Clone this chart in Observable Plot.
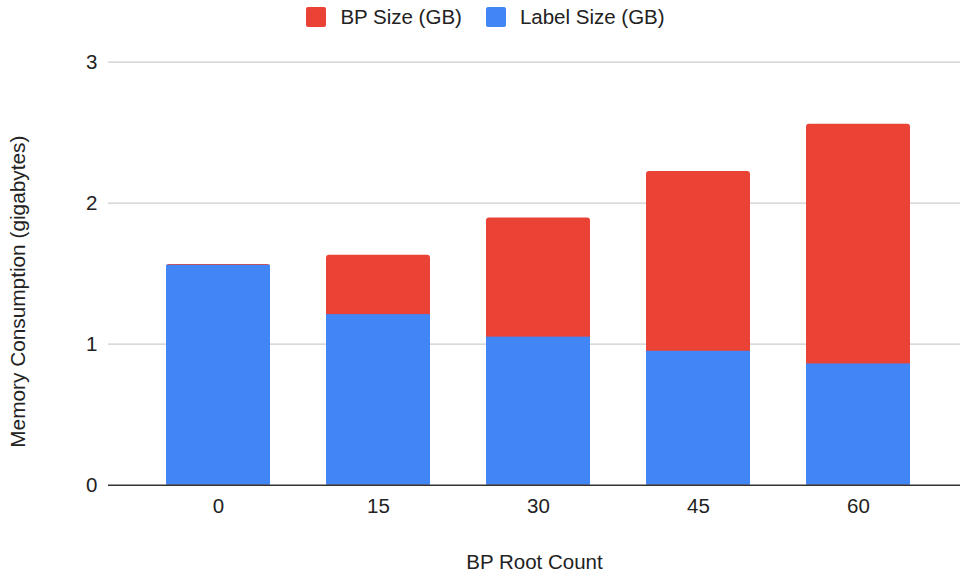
<!DOCTYPE html>
<html>
<head>
<meta charset="utf-8">
<script src="https://cdn.jsdelivr.net/npm/d3@7"></script>
<script src="https://cdn.jsdelivr.net/npm/@observablehq/plot@0.6"></script>
<style>
  html, body { margin: 0; padding: 0; background: #fff; }
  body { width: 960px; height: 576px; overflow: hidden; font-family: "Liberation Sans", Arial, sans-serif; color: #222; }
  #legend { height: 34px; display: flex; justify-content: center; align-items: center; padding-left: 11px; box-sizing: border-box; font-size: 20.5px; }
  .item { display: flex; align-items: center; }
  .item + .item { margin-left: 24px; }
  .swatch { width: 20px; height: 20px; border-radius: 2px; margin-right: 14px; }
  #chart svg { display: block; }
</style>
</head>
<body>
<div id="legend"></div>
<div id="chart"></div>
<script>
// BP root counts on the x axis
const rootCounts = [0, 15, 30, 45, 60];
// Memory used by labels and by BP, in gigabytes
const labelSize = [1.56, 1.21, 1.05, 0.95, 0.86];
const bpSize = [0.005, 0.42, 0.845, 1.275, 1.70];
const yTicks = [0, 1, 2, 3];

const seriesNames = ["BP Size (GB)", "Label Size (GB)"];
const seriesColors = ["#EA4335", "#4285F4"];
const yTitle = "Memory Consumption (gigabytes)";
const xTitle = "BP Root Count";

const rows = rootCounts.map((c, i) => ({
  count: c,
  label: labelSize[i],
  bp: bpSize[i],
  total: labelSize[i] + bpSize[i]
}));

// legend
const legend = document.getElementById("legend");
seriesNames.forEach((name, i) => {
  const item = document.createElement("div");
  item.className = "item";
  const sw = document.createElement("span");
  sw.className = "swatch";
  sw.style.background = seriesColors[i];
  const tx = document.createElement("span");
  tx.textContent = name;
  item.append(sw, tx);
  legend.append(item);
});

const chart = Plot.plot({
  width: 960,
  height: 542,
  marginLeft: 108,
  marginRight: 0,
  marginTop: 27.7,
  marginBottom: 91.3,
  style: { fontFamily: "'Liberation Sans', Arial, sans-serif", fontSize: "20.5px", color: "#222", background: "#fff" },
  x: { type: "band", domain: rootCounts, range: [108.5, 967.5], padding: 0.352 },
  y: { domain: [0, 3] },
  marks: [
    Plot.ruleY(yTicks.filter(d => d > 0), { stroke: "#cccccc", strokeWidth: 1.2 }),
    // BP part: drawn as the full stack height so the rounded top sits on the total
    Plot.barY(rows, { x: "count", y1: 0, y2: "total", fill: seriesColors[0], rx: 3 }),
    // label part underneath
    Plot.barY(rows, { x: "count", y1: 0, y2: "label", fill: seriesColors[1] }),
    Plot.ruleY([0], { stroke: "#333333", strokeWidth: 1.4 }),
    Plot.axisY({ ticks: yTicks, tickFormat: d3.format("d"), tickSize: 0, tickPadding: 11, label: null }),
    // y title, centred on the whole chart height rather than the frame
    Plot.text([yTitle], { frameAnchor: "left", textAnchor: "middle", rotate: -90, dx: -90, dy: 18, fill: "#222", fontSize: 20.8 }),
    Plot.axisX({ tickSize: 0, tickPadding: 13, label: xTitle, labelAnchor: "center", labelOffset: 84, labelArrow: "none" })
  ]
});
document.getElementById("chart").append(chart);
</script>
</body>
</html>
